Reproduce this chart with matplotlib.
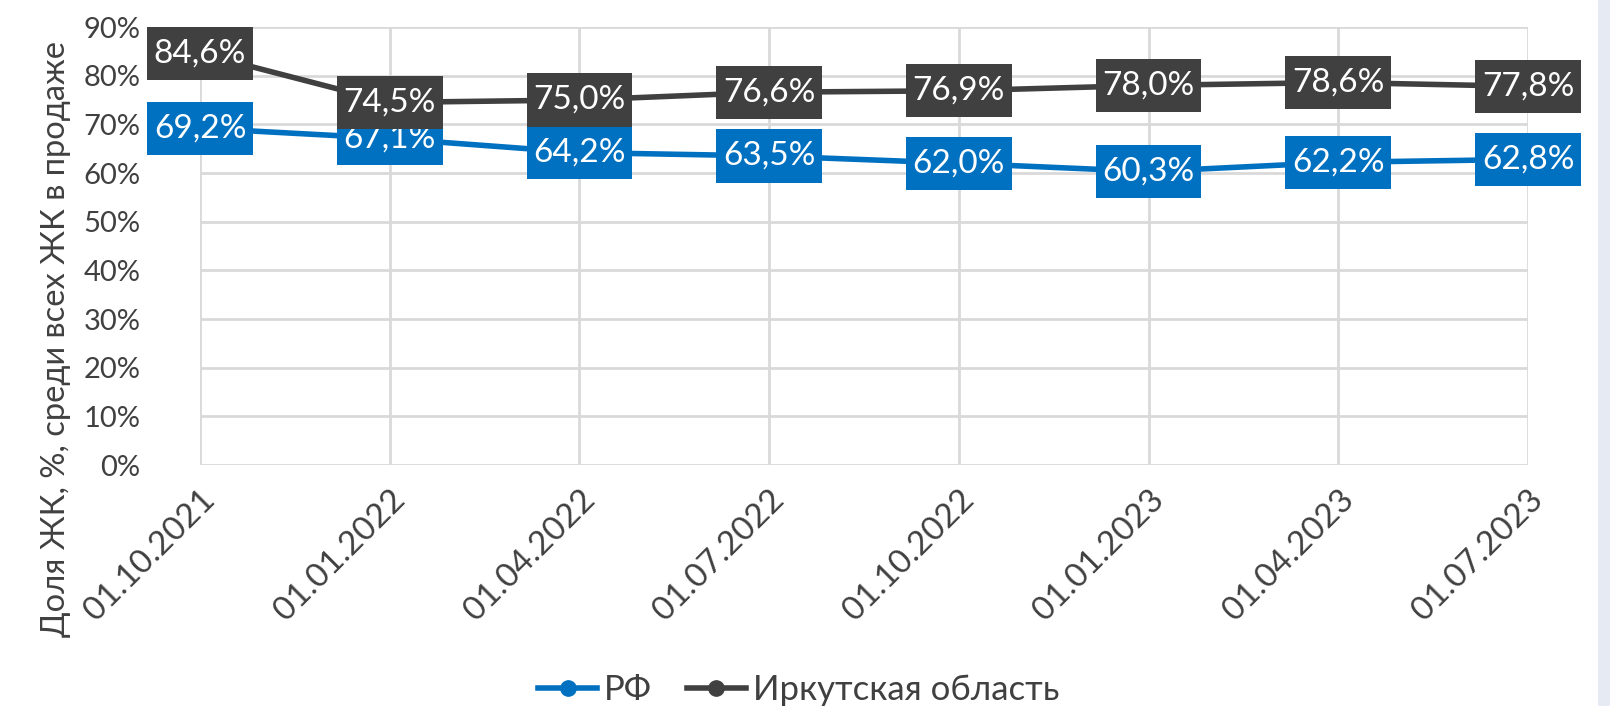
import matplotlib.pyplot as plt
from matplotlib.patches import Rectangle
from matplotlib.lines import Line2D

plt.rcParams['font.family'] = ['Lato', 'DejaVu Sans']

dates = ["01.10.2021", "01.01.2022", "01.04.2022", "01.07.2022",
         "01.10.2022", "01.01.2023", "01.04.2023", "01.07.2023"]
rf = [69.2, 67.1, 64.2, 63.5, 62.0, 60.3, 62.2, 62.8]
irk = [84.6, 74.5, 75.0, 76.6, 76.9, 78.0, 78.6, 77.8]
yticks = [0, 10, 20, 30, 40, 50, 60, 70, 80, 90]

blue = "#0070C0"
dark = "#404040"
grid = "#d9d9d9"

fig = plt.figure(figsize=(16.1, 7.06), dpi=100)
ax = fig.add_axes([200 / 1610, 1 - 465 / 706, 1328 / 1610, 438 / 706])

x = list(range(len(dates)))
ax.plot(x, rf, color=blue, lw=4, marker="o", ms=11, zorder=3, label="РФ")
ax.plot(x, irk, color=dark, lw=4, marker="o", ms=11, zorder=3,
        label="Иркутская область")

# data labels: white text in a filled box
for ys, c in [(rf, blue), (irk, dark)]:
    for xi, yi in zip(x, ys):
        ax.text(xi, yi, f"{yi:.1f}%".replace(".", ","), ha="center", va="center",
                color="white", fontsize=24, zorder=5,
                bbox=dict(boxstyle="square,pad=0.2", fc=c, ec="none",
                          mutation_aspect=1.75))

ax.set_xlim(0, len(dates) - 1)
ax.set_ylim(0, 90)
ax.set_yticks(yticks)
ax.set_yticklabels([f"{v}%" for v in yticks])
ax.set_xticks(x)
ax.set_xticklabels(dates, rotation=45, ha="right", va="top", rotation_mode="anchor")
ax.tick_params(axis="y", length=0, pad=43, labelsize=21, colors=dark)
ax.tick_params(axis="x", length=0, pad=14, labelsize=24, colors=dark)
ax.grid(True, color=grid, lw=2)
ax.set_axisbelow(True)
for s in ax.spines.values():
    s.set_visible(False)

fig.text(56 / 1610, 1 - 339 / 706, "Доля ЖК, %, среди всех ЖК в продаже",
         rotation=90, ha="center", va="center", fontsize=23.5, color=dark)

handles = [Line2D([], [], color=blue, lw=4, marker="o", ms=11),
           Line2D([], [], color=dark, lw=4, marker="o", ms=11)]
fig.legend(handles, ["РФ", "Иркутская область"], loc="center",
           bbox_to_anchor=(0.496, 1 - 690 / 706), ncol=2, frameon=False,
           fontsize=25, handlelength=1.7, columnspacing=1.0, handletextpad=0.2,
           labelcolor=dark)

# light strip on the right edge
fig.add_artist(Rectangle((1598 / 1610, 0), 12 / 1610, 1, transform=fig.transFigure,
                         fc="#e6eaf3", ec="none"))

fig.savefig("out.png", dpi=100)
